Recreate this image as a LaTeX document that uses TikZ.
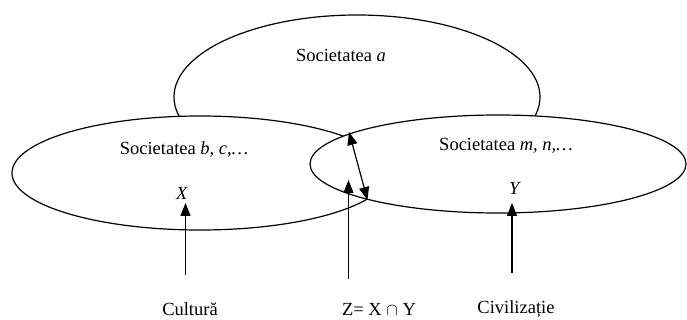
\documentclass[tikz,border=0pt]{standalone}
\usepackage{fontspec}
\setmainfont{Liberation Serif}
\usetikzlibrary{shapes.geometric,arrows.meta}
\begin{document}
\begin{tikzpicture}[x=1pt,y=-1pt,
  oval/.style={ellipse,draw=black,line width=1.2pt,fill=white,inner sep=0pt},
  lbl/.style={font=\fontsize{18.5}{20}\selectfont,inner sep=0pt},
  arr/.style={line width=1.2pt,-{Triangle[length=13pt,width=10pt]}},
  darr/.style={line width=1.2pt,{Triangle[length=13pt,width=10pt]}-{Triangle[length=13pt,width=10pt]}}]
\useasboundingbox (0,0) rectangle (687,320);
\node[oval,minimum width=366pt,minimum height=164pt] (ea) at (357,97) {};
\node[oval,minimum width=376pt,minimum height=114pt] (eb) at (200,173) {};
\node[oval,minimum width=376pt,minimum height=98pt] (em) at (498,164) {};
\node[lbl] (ta) at (341,55) {Societatea \textit{a}};
\node[lbl] (tb) at (184,150) {Societatea \textit{b, c,…}};
\node[lbl] (tm) at (506,146) {Societatea \textit{m, n,…}};
\node[lbl] (X) at (182,193) {\textit{X}};
\node[lbl] (Y) at (515,188) {\textit{Y}};
\node[lbl] (cul) at (190,309) {Cultură};
\node[lbl] (z) at (379,309) {Z= X $\cap$ Y};
\node[lbl] (civ) at (516,309) {Civilizație};
\coordinate (xs) at (185.5,275);
\coordinate (xt) at (185.5,203);
\coordinate (zs) at (348.5,279);
\coordinate (zt) at (348.5,180);
\coordinate (ys) at (512,273);
\coordinate (yt) at (512,203);
\coordinate (d1) at (349,132);
\coordinate (d2) at (367.5,200);
\draw[arr] (xs) -- (xt);
\draw[arr] (zs) -- (zt);
\draw[arr] (ys) -- (yt);
\draw[darr] (d1) -- (d2);
\end{tikzpicture}
\end{document}
